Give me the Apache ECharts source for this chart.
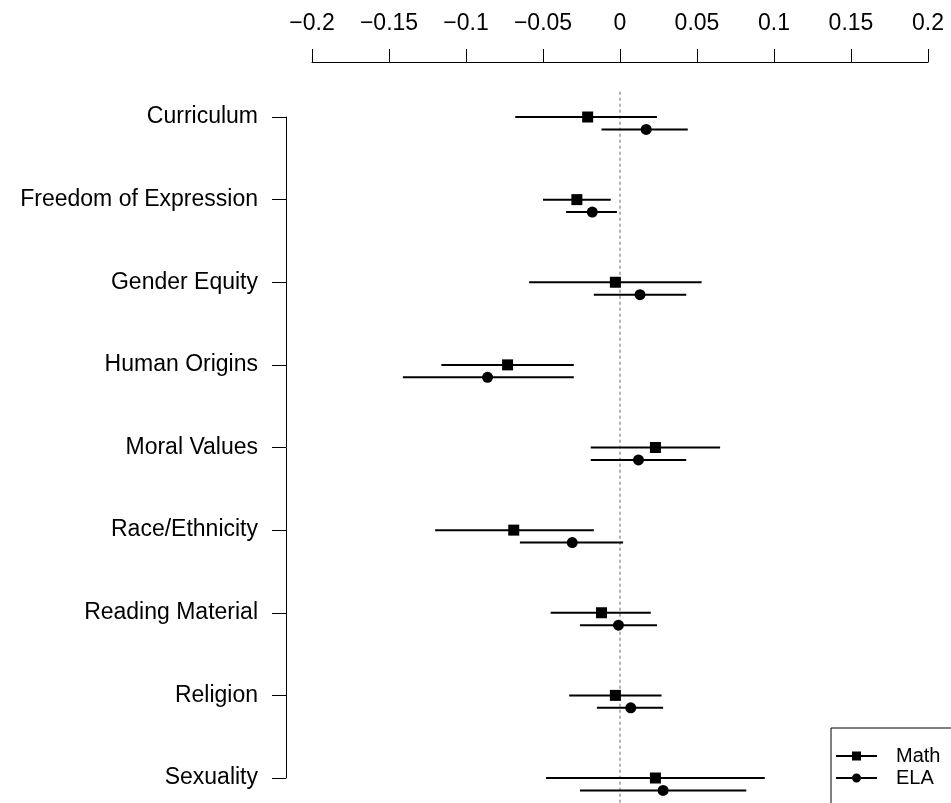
<!DOCTYPE html>
<html>
<head>
<meta charset="utf-8">
<script src="https://cdn.jsdelivr.net/npm/echarts@6/dist/echarts.min.js"></script>
<style>
  html, body { margin: 0; padding: 0; background: #fff; }
  #chart { width: 951px; height: 803px; }
</style>
</head>
<body>
<div id="chart"></div>
<script>
// topics, top to bottom
const categories = [
  "Curriculum", "Freedom of Expression", "Gender Equity", "Human Origins",
  "Moral Values", "Race/Ethnicity", "Reading Material", "Religion", "Sexuality"
];

// estimate with lower / upper interval ends
const mathEst = [-0.021, -0.028, -0.003, -0.073, 0.023, -0.069, -0.012, -0.003, 0.023];
const mathLo  = [-0.068, -0.050, -0.059, -0.116, -0.019, -0.120, -0.045, -0.033, -0.048];
const mathHi  = [0.024, -0.006, 0.053, -0.030, 0.065, -0.017, 0.020, 0.027, 0.094];

const elaEst = [0.017, -0.018, 0.013, -0.086, 0.012, -0.031, -0.001, 0.007, 0.028];
const elaLo  = [-0.012, -0.035, -0.017, -0.141, -0.019, -0.065, -0.026, -0.015, -0.026];
const elaHi  = [0.044, -0.002, 0.043, -0.030, 0.043, 0.002, 0.024, 0.028, 0.082];

const xTickLabels = ["\u22120.2", "\u22120.15", "\u22120.1", "\u22120.05", "0", "0.05", "0.1", "0.15", "0.2"];

// dotted reference line at zero, running past the first and last rows
const refLine = [[0, 0.694, 9.3]];

const ELA_SHIFT = 0.15; // ELA row sits just below the Math row
const FONT = "Liberation Sans, Arial, Helvetica, sans-serif";

const chart = echarts.init(document.getElementById("chart"), null, { renderer: "canvas" });

function intervalSeries(name, lo, hi, shift) {
  return {
    type: "custom",
    name: name + " CI",
    silent: true,
    clip: false,
    data: lo.map((l, i) => [l, hi[i], i + 1 + shift]),
    renderItem: (params, api) => {
      const a = api.coord([api.value(0), api.value(2)]);
      const b = api.coord([api.value(1), api.value(2)]);
      return {
        type: "line",
        shape: { x1: a[0], y1: a[1], x2: b[0], y2: b[1] },
        style: { stroke: "#000", lineWidth: 2 }
      };
    },
    z: 2
  };
}

// legend glyphs: line with marker in the middle
const squareIcon = "path://M0,4 L16,4 L16,6 L0,6 Z M25,4 L41,4 L41,6 L25,6 Z M16,0.5 L25,0.5 L25,9.5 L16,9.5 Z";
const circleIcon = "path://M0,4 L16,4 L16,6 L0,6 Z M25,4 L41,4 L41,6 L25,6 Z M16,5 A4.5,4.5 0 1 1 25,5 A4.5,4.5 0 1 1 16,5 Z";

chart.setOption({
  animation: false,
  backgroundColor: "#fff",
  textStyle: { fontFamily: FONT },
  grid: { left: 312, right: 23, top: 117, bottom: 25 },
  xAxis: {
    type: "value",
    position: "top",
    min: -0.2,
    max: 0.2,
    interval: 0.05,
    offset: 55,
    axisLine: { show: true, onZero: false, lineStyle: { color: "#000", width: 1 } },
    axisTick: { show: true, length: 13, lineStyle: { color: "#000" } },
    axisLabel: {
      color: "#000",
      fontSize: 23,
      fontFamily: FONT,
      margin: 27,
      formatter: (v) => xTickLabels[Math.round((v + 0.2) / 0.05)]
    },
    splitLine: { show: false }
  },
  yAxis: {
    type: "value",
    inverse: true,
    min: 1,
    max: 9,
    interval: 1,
    offset: 26,
    axisLine: { show: true, onZero: false, lineStyle: { color: "#000", width: 1 } },
    axisTick: { show: true, length: 14, lineStyle: { color: "#000" } },
    axisLabel: {
      color: "#000",
      fontSize: 23,
      fontFamily: FONT,
      margin: 28,
      formatter: (v) => categories[v - 1]
    },
    splitLine: { show: false }
  },
  legend: {
    orient: "vertical",
    left: 831,
    top: 728,
    height: 300,
    data: [
      { name: "Math", icon: squareIcon },
      { name: "ELA", icon: circleIcon }
    ],
    itemWidth: 41,
    itemHeight: 10,
    itemGap: 2,
    borderColor: "#000",
    borderWidth: 1,
    borderRadius: 0,
    padding: [18, 80, 40, 5],
    selectedMode: false,
    itemStyle: { color: "#000" },
    textStyle: { color: "#000", fontSize: 20, lineHeight: 20, fontFamily: FONT, padding: [0, 0, 0, 14] }
  },
  series: [
    {
      type: "custom",
      name: "zero",
      silent: true,
      clip: false,
      data: refLine,
      renderItem: (params, api) => {
        const a = api.coord([api.value(0), api.value(1)]);
        const b = api.coord([api.value(0), api.value(2)]);
        return {
          type: "line",
          shape: { x1: a[0], y1: a[1], x2: b[0], y2: b[1] },
          style: { stroke: "#666", lineWidth: 1, lineDash: [3, 3] }
        };
      },
      z: 1
    },
    intervalSeries("Math", mathLo, mathHi, 0),
    intervalSeries("ELA", elaLo, elaHi, ELA_SHIFT),
    {
      type: "scatter",
      name: "Math",
      symbol: "rect",
      symbolSize: 11,
      clip: false,
      itemStyle: { color: "#000", opacity: 1 },
      data: mathEst.map((v, i) => [v, i + 1]),
      z: 3
    },
    {
      type: "scatter",
      name: "ELA",
      symbol: "circle",
      symbolSize: 11,
      clip: false,
      itemStyle: { color: "#000", opacity: 1 },
      data: elaEst.map((v, i) => [v, i + 1 + ELA_SHIFT]),
      z: 3
    }
  ]
});
</script>
</body>
</html>
